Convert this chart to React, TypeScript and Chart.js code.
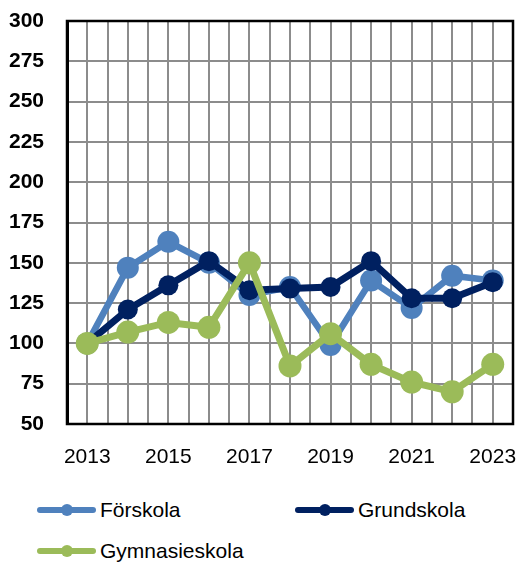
import React, { useEffect, useRef } from "react";
import { Chart, registerables } from "chart.js";

Chart.register(...registerables);

const years = [2013, 2014, 2015, 2016, 2017, 2018, 2019, 2020, 2021, 2022, 2023];
const forskola = [100, 147, 163, 150, 130, 135, 99, 139, 122, 142, 139];
const grundskola = [100, 121, 136, 151, 133, 134, 135, 151, 128, 128, 138];
const gymnasieskola = [100, 107, 113, 110, 150, 86, 106, 87, 76, 70, 87];
const seriesNames = ["Förskola", "Grundskola", "Gymnasieskola"];
const seriesColors = ["#4F81BD", "#002060", "#9BBB59"];
const yTicks = [50, 75, 100, 125, 150, 175, 200, 225, 250, 275, 300];

const FONT = "'Liberation Sans', Arial, sans-serif";

const framePlugin = {
  id: "frame",
  beforeDatasetsDraw(chart: any) {
    const { ctx, chartArea } = chart;
    ctx.save();
    ctx.strokeStyle = "#000";
    ctx.lineWidth = 2.5;
    ctx.strokeRect(chartArea.left, chartArea.top, chartArea.right - chartArea.left, chartArea.bottom - chartArea.top);
    ctx.restore();
  },
};

export default function App() {
  const ref = useRef<HTMLCanvasElement | null>(null);

  useEffect(() => {
    if (!ref.current) return;
    const mk = (arr: number[]) => years.map((y, i) => ({ x: y, y: arr[i] }));
    const all = [forskola, grundskola, gymnasieskola];
    const radii = [11, 10, 11.5];
    const widths = [6.5, 7, 7];
    const chart = new Chart(ref.current, {
      type: "line",
      data: {
        datasets: all.map((arr, i) => ({
          label: seriesNames[i],
          data: mk(arr),
          borderColor: seriesColors[i],
          backgroundColor: seriesColors[i],
          pointBackgroundColor: seriesColors[i],
          pointBorderWidth: 0,
          pointRadius: radii[i],
          borderWidth: widths[i],
          tension: 0,
          order: 3 - i,
          clip: false as any,
        })),
      },
      options: {
        animation: false,
        responsive: false,
        layout: { autoPadding: false, padding: { left: 0, right: 5, top: 21, bottom: 0 } },
        plugins: { legend: { display: false }, tooltip: { enabled: false } },
        scales: {
          x: {
            type: "linear",
            min: 2012.5,
            max: 2023.5,
            afterBuildTicks(scale: any) {
              const t: any[] = [];
              for (let v = 2012.5; v <= 2023.51; v += 0.5) t.push({ value: Math.round(v * 2) / 2 });
              scale.ticks = t;
            },
            afterFit(scale: any) {
              scale.height = 56;
              scale.paddingLeft = 0;
              scale.paddingRight = 0;
            },
            grid: { color: "#8c8c8c", lineWidth: 2, drawTicks: false },
            border: { display: true, color: "#000", width: 2 },
            ticks: {
              autoSkip: false,
              maxRotation: 0,
              padding: 21,
              color: "#000",
              font: { family: FONT, size: 21 },
              callback: (v: any) => {
                const n = Number(v);
                return Number.isInteger(n) && (n - years[0]) % 2 === 0 ? String(n) : "";
              },
            },
          },
          y: {
            min: yTicks[0],
            max: yTicks[yTicks.length - 1],
            afterBuildTicks(scale: any) {
              scale.ticks = yTicks.map((v) => ({ value: v }));
            },
            afterFit(scale: any) {
              scale.width = 67;
              scale.paddingTop = 0;
              scale.paddingBottom = 0;
            },
            grid: { color: "#8c8c8c", lineWidth: 2, drawTicks: false },
            border: { display: true, color: "#000", width: 3 },
            ticks: {
              padding: 23,
              color: "#000",
              font: { family: FONT, size: 21, weight: "bold" },
            },
          },
        },
      },
      plugins: [framePlugin],
    } as any);
    return () => chart.destroy();
  }, []);

  const legendItems = [
    { name: seriesNames[0], color: seriesColors[0], left: 37, top: 510 },
    { name: seriesNames[1], color: seriesColors[1], left: 295, top: 510 },
    { name: seriesNames[2], color: seriesColors[2], left: 37, top: 551 },
  ];

  return (
    <div style={{ position: "absolute", left: 0, top: 0, width: 518, height: 562, background: "#fff" }}>
      <canvas ref={ref} width={518} height={480} style={{ display: "block", width: 518, height: 480 }} />
      {legendItems.map((it) => (
        <div key={it.name} style={{ position: "absolute", left: it.left, top: it.top - 15, height: 30, display: "flex", alignItems: "center" }}>
          <div style={{ position: "relative", width: 59, height: 30 }}>
            <div style={{ position: "absolute", left: 0, top: 12, width: 59, height: 6, borderRadius: 3, background: it.color }} />
            <div style={{ position: "absolute", left: 24, top: 9, width: 12, height: 12, borderRadius: 6, background: it.color }} />
          </div>
          <span style={{ marginLeft: 4, fontFamily: FONT, fontSize: 21, color: "#000", lineHeight: "30px" }}>{it.name}</span>
        </div>
      ))}
    </div>
  );
}
